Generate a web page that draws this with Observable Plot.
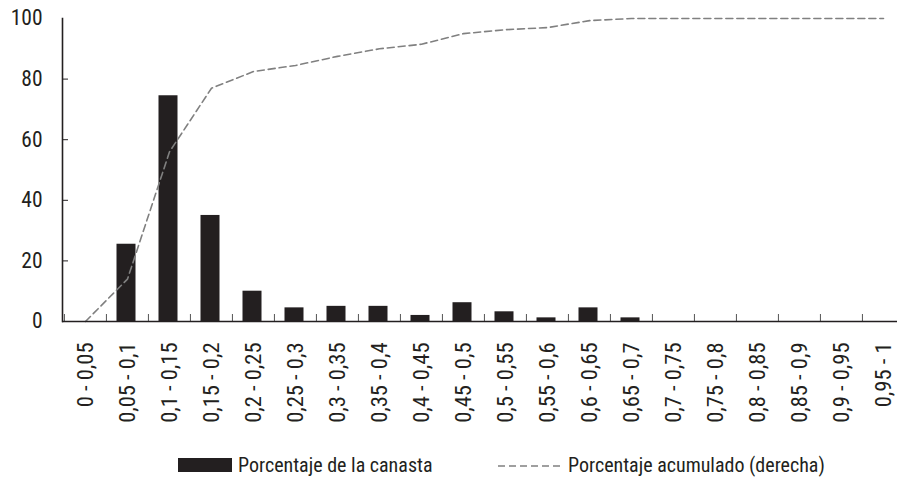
<!DOCTYPE html>
<html>
<head>
<meta charset="utf-8">
<script src="https://cdn.jsdelivr.net/npm/d3@7"></script>
<script src="https://cdn.jsdelivr.net/npm/@observablehq/plot@0.6"></script>
<style>
  html, body { margin: 0; padding: 0; background: #fff; }
  body { color: #231f20; }
  #wrap { position: relative; width: 897px; height: 478px; overflow: hidden; }
  #chart svg { display: block; }
  #legend { position: absolute; left: 0; top: 440px; width: 897px; height: 38px; }
  .sw { position: absolute; }
  .lt { position: absolute; top: 12px; line-height: 26px; white-space: nowrap; }
  .probe { position: absolute; left: -9999px; top: 0; white-space: nowrap; font-size: 40px; }
</style>
</head>
<body>
<div id="wrap">
  <div id="chart"></div>
  <div id="legend"></div>
</div>
<script>
const categories = [
  "0 - 0,05", "0,05 - 0,1", "0,1 - 0,15", "0,15 - 0,2", "0,2 - 0,25",
  "0,25 - 0,3", "0,3 - 0,35", "0,35 - 0,4", "0,4 - 0,45", "0,45 - 0,5",
  "0,5 - 0,55", "0,55 - 0,6", "0,6 - 0,65", "0,65 - 0,7", "0,7 - 0,75",
  "0,75 - 0,8", "0,8 - 0,85", "0,85 - 0,9", "0,9 - 0,95", "0,95 - 1"
];
const basketPct = [0, 25.5, 74.5, 35, 10, 4.5, 5, 5, 2, 6.2, 3.2, 1.2, 4.5, 1.2, 0, 0, 0, 0, 0, 0];
const cumulativePct = [0, 14, 56, 77, 82.5, 84.5, 87.5, 90, 91.5, 95, 96.3, 97, 99.3, 100, 100, 100, 100, 100, 100, 100];
const yTicks = [0, 20, 40, 60, 80, 100];
const yInnerTicks = [20, 40, 60, 80];
const seriesNames = ["Porcentaje de la canasta", "Porcentaje acumulado (derecha)"];

// ---- pick the most condensed installed sans font ----
function measure(family, stretch) {
  const s = document.createElement("span");
  s.className = "probe";
  s.style.fontFamily = family;
  s.style.fontStretch = stretch;
  s.textContent = "Porcentaje de la canasta 0,05 - 0,1";
  document.body.appendChild(s);
  const w = s.getBoundingClientRect().width;
  s.remove();
  return w;
}
const baseMono = measure("monospace", "normal");
const candidates = [
  {family: '"Liberation Sans Narrow"', stretch: "normal", check: true},
  {family: '"Roboto Condensed"', stretch: "normal", check: true},
  {family: '"Noto Sans"', stretch: "condensed", stretchCheck: true},
  {family: '"Open Sans"', stretch: "condensed", stretchCheck: true},
  {family: '"Noto Sans"', stretch: "semi-condensed", stretchCheck: true},
  {family: '"DejaVu Sans Condensed"', stretch: "normal", check: true}
];
let chosen = {family: '"DejaVu Sans Condensed"', stretch: "normal"};
for (const c of candidates) {
  if (c.check) {
    const w = measure(c.family + ", monospace", "normal");
    if (Math.abs(w - baseMono) > 1) { chosen = c; break; }
  } else if (c.stretchCheck) {
    const wn = measure(c.family + ", monospace", "normal");
    const wc = measure(c.family + ", monospace", c.stretch);
    if (Math.abs(wn - baseMono) > 1 && wc < wn * 0.95) { chosen = c; break; }
  }
}
const font = chosen.family + ", sans-serif";
const stretch = chosen.stretch;
document.body.style.fontFamily = font;
document.body.style.fontStretch = stretch;

const data = categories.map((c, i) => ({cat: c, pct: basketPct[i], cum: cumulativePct[i]}));

const W = 897, H = 440;
const xRange = [62, 905];
const bw = (xRange[1] - xRange[0]) / categories.length;
const ink = "#231f20";
const lineGrey = "#808080";

const chart = Plot.plot({
  width: W,
  height: H,
  marginLeft: 62,
  marginRight: 0,
  marginTop: 18,
  marginBottom: 119,
  style: {fontFamily: font, fontStretch: stretch, fontSize: "21px", color: ink, background: "#fff"},
  x: {type: "band", domain: categories, range: xRange, padding: 0},
  y: {domain: [0, 100]},
  marks: [
    Plot.barY(data, {x: "cat", y: "pct", fill: ink, insetLeft: 10.5, insetRight: 12.5}),
    Plot.lineY(data, {x: "cat", y: "cum", stroke: lineGrey, strokeWidth: 1.6, strokeDasharray: "7,4"}),
    Plot.axisY(yTicks, {tickSize: 0, tickPadding: 20, label: null, fontSize: 21.5}),
    Plot.axisY(yInnerTicks, {tickSize: -6, tickFormat: () => "", label: null, stroke: ink}),
    Plot.axisX({tickSize: 0, tickRotate: -90, tickPadding: 21, label: null, fontSize: 22.5}),
    Plot.axisX({tickSize: -7, tickFormat: () => "", label: null, dx: -bw / 2, stroke: "#555"}),
    Plot.ruleY([0], {stroke: ink, strokeWidth: 1.6}),
    Plot.frame({anchor: "left", stroke: ink, strokeWidth: 1.6})
  ]
});
document.getElementById("chart").appendChild(chart);

// Legend
const legend = document.getElementById("legend");
legend.style.fontSize = "20px";
const sw1 = document.createElement("div");
sw1.className = "sw";
Object.assign(sw1.style, {left: "178px", top: "18px", width: "54px", height: "14px", background: ink});
legend.appendChild(sw1);
const t1 = document.createElement("div");
t1.className = "lt"; t1.style.left = "238px"; t1.textContent = seriesNames[0];
legend.appendChild(t1);
const ns = "http://www.w3.org/2000/svg";
const sw2 = document.createElementNS(ns, "svg");
sw2.setAttribute("width", "64"); sw2.setAttribute("height", "6");
sw2.setAttribute("class", "sw");
sw2.style.left = "497px"; sw2.style.top = "23px";
const ln = document.createElementNS(ns, "line");
ln.setAttribute("x1", "1"); ln.setAttribute("x2", "63");
ln.setAttribute("y1", "3"); ln.setAttribute("y2", "3");
ln.setAttribute("stroke", lineGrey); ln.setAttribute("stroke-width", "1.6");
ln.setAttribute("stroke-dasharray", "7,4");
sw2.appendChild(ln);
legend.appendChild(sw2);
const t2 = document.createElement("div");
t2.className = "lt"; t2.style.left = "568px"; t2.textContent = seriesNames[1];
legend.appendChild(t2);
</script>
</body>
</html>
